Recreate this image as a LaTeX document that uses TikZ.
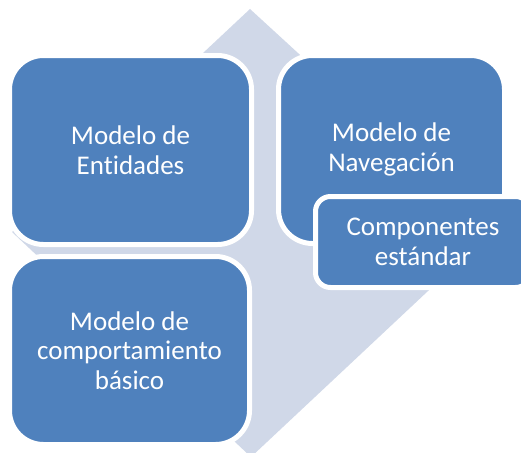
\documentclass[tikz,border=0pt]{standalone}
\usepackage{fontspec}
\setmainfont{Carlito}[Ligatures=CommonOff]
\usetikzlibrary{positioning}
\definecolor{boxblue}{HTML}{4F81BD}
\definecolor{diamondgray}{HTML}{D0D8E8}
\tikzstyle{block} = [draw=white, fill=boxblue, line width=5pt, rectangle,
    rounded corners=34pt, inner sep=0pt, text=white, align=center,
    font=\fontsize{27}{29.5}\selectfont]
\tikzstyle{subblock} = [block, rounded corners=15pt]

\begin{document}
\begin{tikzpicture}[x=1pt, y=-1pt]
    % We fix the frame and draw the pale diamond behind everything
    \useasboundingbox (0,0) rectangle (521,452);
    \clip (0,0) rectangle (521,452);
    \fill [diamondgray] (250,9) -- (492,231) -- (251,457) -- (12,232) -- cycle;

    % Then the blocks, placed relative to the first one
    \node [block, minimum width=242pt, minimum height=189pt] (entities) at (130.5,150) {Modelo de\\Entidades};
    \node [block, minimum width=240pt, minimum height=188pt, below=7pt of entities.south west, anchor=north west] (behaviour) {Modelo de\\comportamiento\\b\'asico};
    \node [block, minimum width=226pt, minimum height=188pt, right=22pt of entities.north east, anchor=north west] (navigation) {Modelo de\\Navegaci\'on};
    \node [subblock, minimum width=215pt, minimum height=91pt] (components) at (423,242) {Componentes\\est\'andar};
\end{tikzpicture}
\end{document}
